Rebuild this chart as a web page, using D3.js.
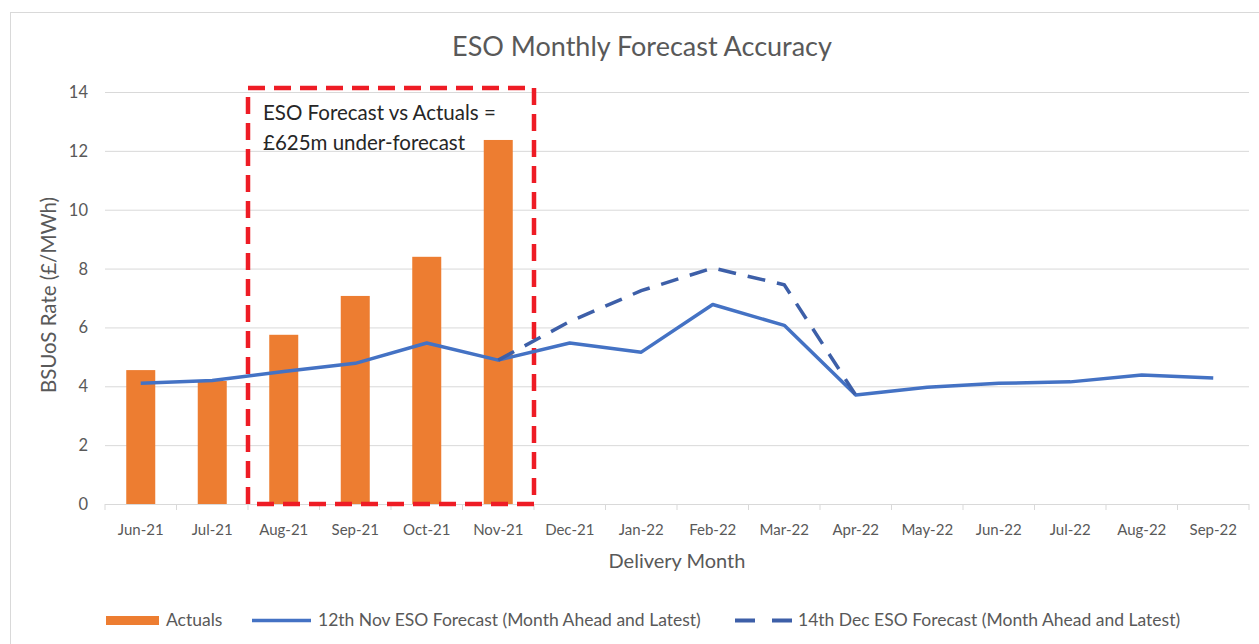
<!DOCTYPE html>
<html>
<head>
<meta charset="utf-8">
<script src="https://cdn.jsdelivr.net/npm/d3@7"></script>
<style>
  body { margin: 0; background: #fff; }
  svg text { font-family: Lato, "Open Sans", sans-serif; }
</style>
</head>
<body>
<svg id="chart" width="1259" height="644"></svg>
<script>
// data
var months = ['Jun-21', 'Jul-21', 'Aug-21', 'Sep-21', 'Oct-21', 'Nov-21', 'Dec-21', 'Jan-22',
  'Feb-22', 'Mar-22', 'Apr-22', 'May-22', 'Jun-22', 'Jul-22', 'Aug-22', 'Sep-22'];
var actuals = [4.55, 4.18, 5.75, 7.07, 8.4, 12.37];
var novForecast = [4.1, 4.2, 4.5, 4.78, 5.47, 4.89, 5.47, 5.16, 6.78, 6.07, 3.7, 3.97, 4.1, 4.15, 4.38, 4.28];
var decMonths = ['Nov-21', 'Dec-21', 'Jan-22', 'Feb-22', 'Mar-22', 'Apr-22'];
var decForecast = [4.89, 6.2, 7.25, 8.02, 7.45, 3.7];
var yTicks = [0, 2, 4, 6, 8, 10, 12, 14];
var boxMonths = ['Aug-21', 'Nov-21'];
var boxText = ['ESO Forecast vs Actuals =', '£625m under-forecast'];

var svg = d3.select('#chart');
var plotLeft = 105, plotRight = 1249, plotTop = 92, plotBottom = 504;
var grey = '#595959';

// chart frame
svg.append('rect')
  .attr('x', 10.5).attr('y', 12.5)
  .attr('width', 1260).attr('height', 640)
  .attr('fill', '#fff').attr('stroke', '#d9d9d9');

var x = d3.scaleBand().domain(months).range([plotLeft, plotRight]);
var y = d3.scaleLinear().domain([0, 14]).range([plotBottom, plotTop]);

// gridlines
svg.append('g')
  .selectAll('line')
  .data(yTicks.filter(function(d) { return d > 0; }))
  .enter()
  .append('line')
  .attr('x1', plotLeft).attr('x2', plotRight)
  .attr('y1', function(d) { return y(d) + 0.5; })
  .attr('y2', function(d) { return y(d) + 0.5; })
  .attr('stroke', '#d9d9d9').attr('stroke-width', 1);

// y axis labels
svg.append('g')
  .selectAll('text')
  .data(yTicks)
  .enter()
  .append('text')
  .attr('x', 88)
  .attr('y', function(d) { return y(d) + 6; })
  .attr('text-anchor', 'end')
  .attr('font-size', 16.5)
  .attr('fill', grey)
  .text(function(d) { return d; });

// x axis with ticks at category edges
var xAxis = svg.append('g');
xAxis.append('line')
  .attr('x1', plotLeft).attr('x2', plotRight)
  .attr('y1', plotBottom + 0.5).attr('y2', plotBottom + 0.5)
  .attr('stroke', '#d9d9d9');
xAxis.selectAll('.tk')
  .data(months.concat(['end']))
  .enter()
  .append('line')
  .attr('class', 'tk')
  .attr('x1', function(d, i) { return plotLeft + i * x.step(); })
  .attr('x2', function(d, i) { return plotLeft + i * x.step(); })
  .attr('y1', plotBottom).attr('y2', plotBottom + 6)
  .attr('stroke', '#d9d9d9');
xAxis.selectAll('text')
  .data(months)
  .enter()
  .append('text')
  .attr('x', function(d) { return x(d) + x.bandwidth() / 2; })
  .attr('y', 535)
  .attr('text-anchor', 'middle')
  .attr('font-size', 15)
  .attr('fill', grey)
  .text(function(d) { return d; });

// axis titles
svg.append('text')
  .attr('x', (plotLeft + plotRight) / 2).attr('y', 568)
  .attr('text-anchor', 'middle')
  .attr('font-size', 20)
  .attr('fill', grey)
  .text('Delivery Month');

svg.append('text')
  .attr('transform', 'translate(56,295) rotate(-90)')
  .attr('text-anchor', 'middle')
  .attr('font-size', 20.5)
  .attr('fill', grey)
  .text('BSUoS Rate (£/MWh)');

// title
svg.append('text')
  .attr('x', 642).attr('y', 56)
  .attr('text-anchor', 'middle')
  .attr('font-size', 27)
  .attr('fill', grey)
  .text('ESO Monthly Forecast Accuracy');

// bars
var barW = 29;
svg.append('g')
  .selectAll('rect')
  .data(actuals)
  .enter()
  .append('rect')
  .attr('x', function(d, i) { return x(months[i]) + x.bandwidth() / 2 - barW / 2; })
  .attr('y', function(d) { return y(d); })
  .attr('width', barW)
  .attr('height', function(d) { return y(0) - y(d); })
  .attr('fill', '#ed7d31');

// red annotation box
var bx0 = x(boxMonths[0]), bx1 = x(boxMonths[1]) + x.bandwidth();
svg.append('rect')
  .attr('x', bx0).attr('y', y(14) - 4)
  .attr('width', bx1 - bx0).attr('height', y(0) - y(14) + 4)
  .attr('fill', 'none')
  .attr('stroke', '#ee1c25')
  .attr('stroke-width', 4.5)
  .attr('stroke-dasharray', '17,9');

svg.append('g')
  .selectAll('text')
  .data(boxText)
  .enter()
  .append('text')
  .attr('x', bx0 + 15)
  .attr('y', function(d, i) { return 120 + i * 30; })
  .attr('font-size', 20.5)
  .attr('fill', '#262626')
  .text(function(d) { return d; });

// lines
var line = d3.line()
  .x(function(d) { return x(d.m) + x.bandwidth() / 2; })
  .y(function(d) { return y(d.v); });

svg.append('path')
  .datum(months.map(function(m, i) { return { m: m, v: novForecast[i] }; }))
  .attr('d', line)
  .attr('fill', 'none')
  .attr('stroke', '#4472c4')
  .attr('stroke-width', 3.5)
  .attr('stroke-linejoin', 'round');

svg.append('path')
  .datum(decMonths.map(function(m, i) { return { m: m, v: decForecast[i] }; }))
  .attr('d', line)
  .attr('fill', 'none')
  .attr('stroke', '#3d5fa8')
  .attr('stroke-width', 3.5)
  .attr('stroke-dasharray', '18,12');

// legend
var legend = svg.append('g').attr('font-size', 17.5).attr('fill', grey);
legend.append('rect').attr('x', 106).attr('y', 616).attr('width', 53).attr('height', 9).attr('fill', '#ed7d31');
legend.append('text').attr('x', 166).attr('y', 626).text('Actuals');
legend.append('line').attr('x1', 252).attr('x2', 311).attr('y1', 620.5).attr('y2', 620.5)
  .attr('stroke', '#4472c4').attr('stroke-width', 3.5);
legend.append('text').attr('x', 318).attr('y', 626).text('12th Nov ESO Forecast (Month Ahead and Latest)');
legend.append('line').attr('x1', 735).attr('x2', 792).attr('y1', 620.5).attr('y2', 620.5)
  .attr('stroke', '#3d5fa8').attr('stroke-width', 4).attr('stroke-dasharray', '20,17');
legend.append('text').attr('x', 798).attr('y', 626).text('14th Dec ESO Forecast (Month Ahead and Latest)');
</script>
</body>
</html>
